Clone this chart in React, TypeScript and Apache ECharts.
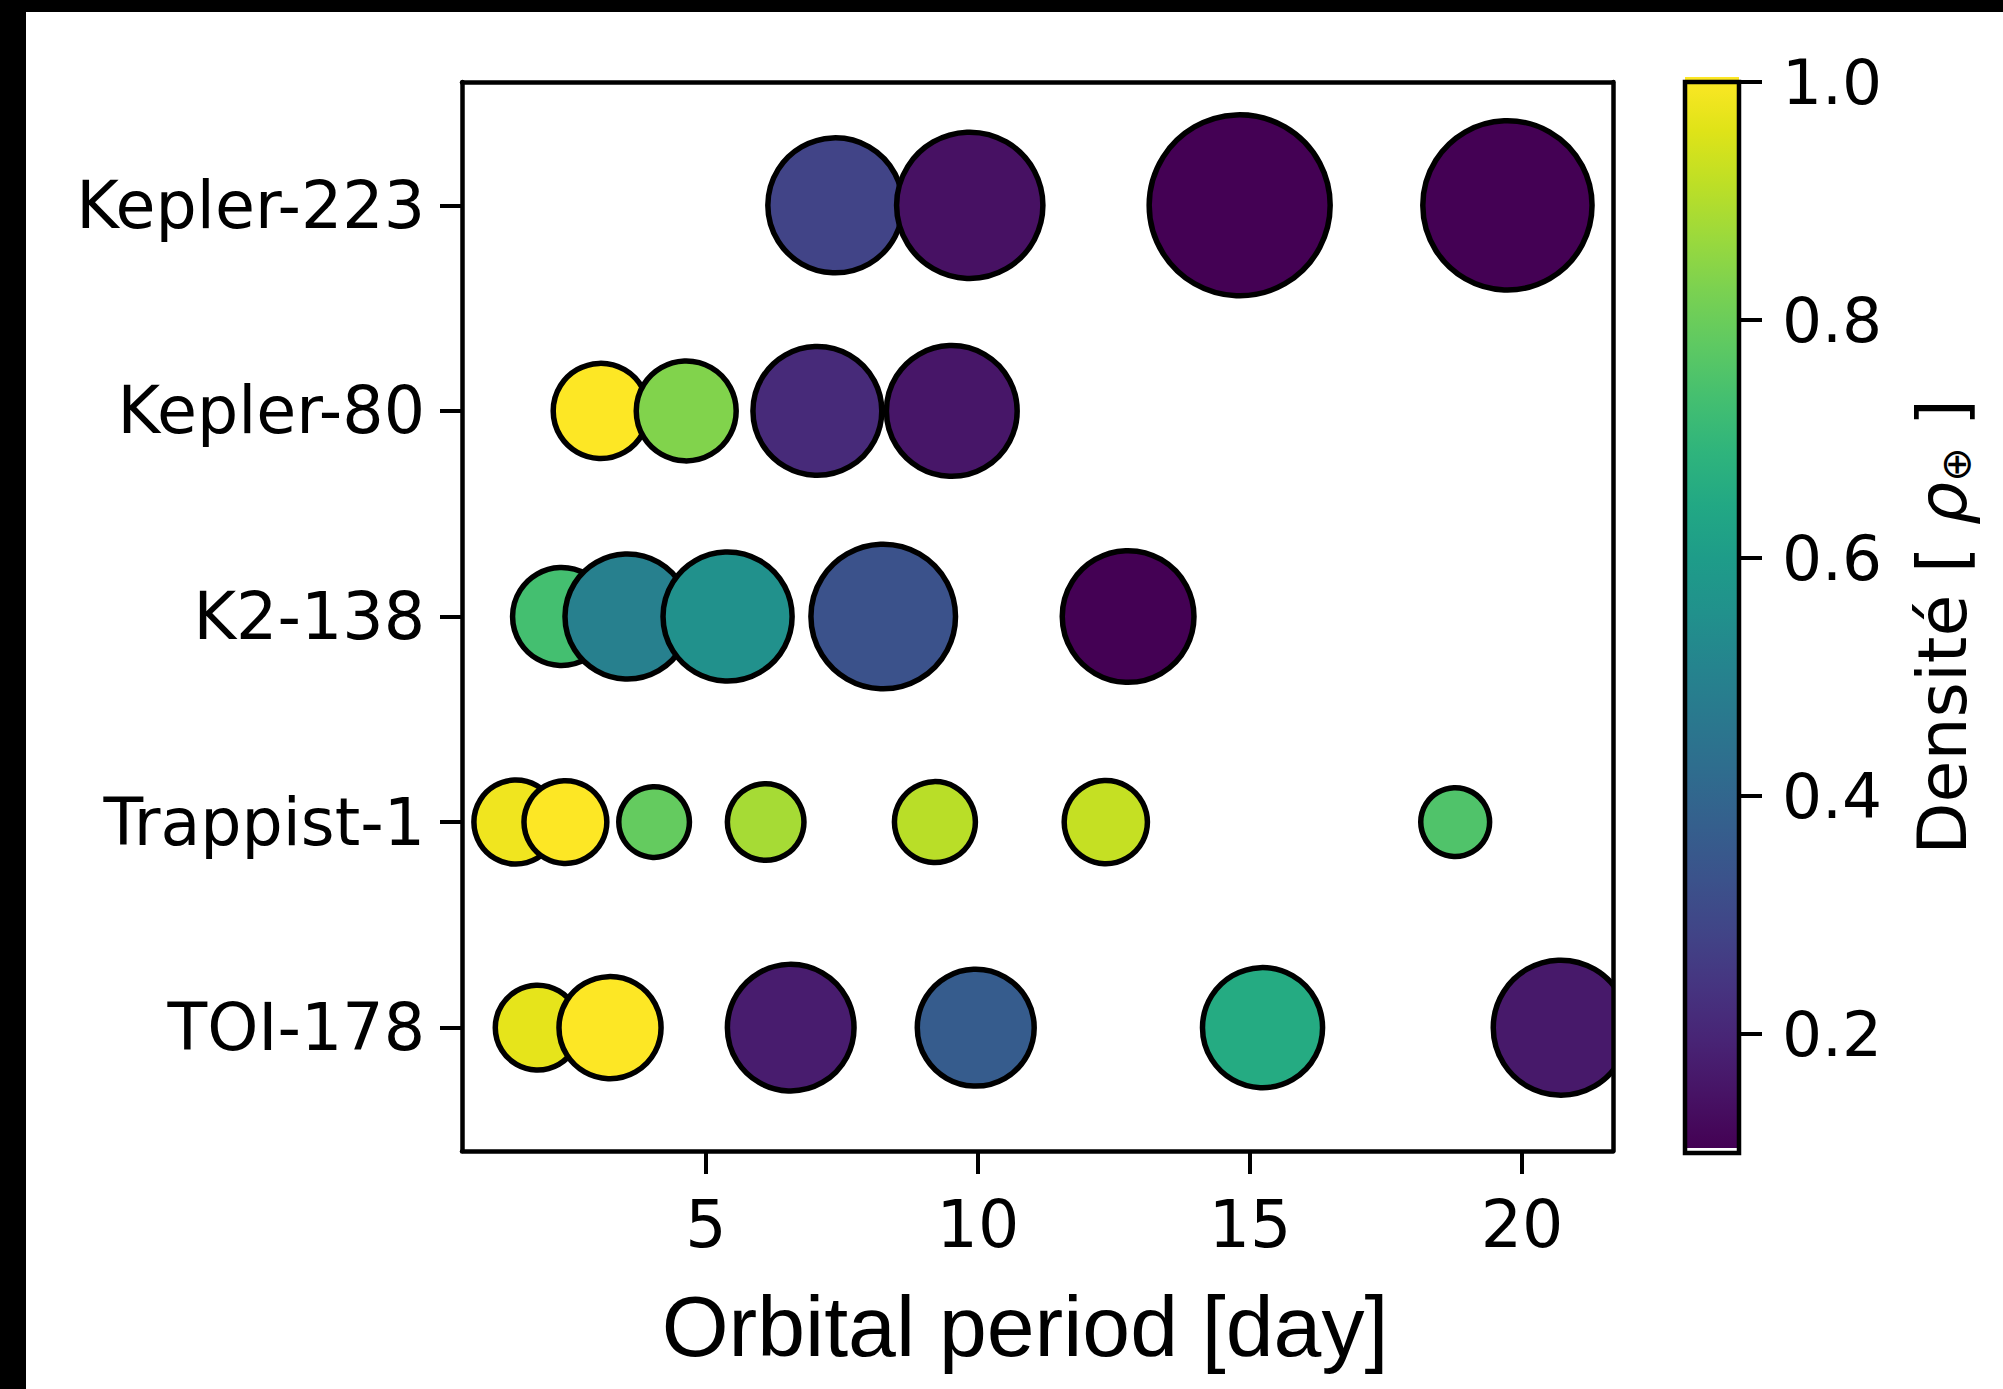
import React, { useEffect, useRef } from "react";
import * as echarts from "echarts";

// Systems, bottom (index 0) to top
const systems = ["TOI-178", "Trappist-1", "K2-138", "Kepler-80", "Kepler-223"];

// Orbital period [day], planet radius [R_earth] (marker size), density [rho_earth] (colour)
const toi178Period = [1.91, 3.24, 6.56, 9.96, 15.23, 20.71];
const toi178Radius = [1.15, 1.67, 2.57, 2.19, 2.31, 2.92];
const toi178Density = [0.965, 1.0, 0.17, 0.36, 0.65, 0.16];

const trappistPeriod = [1.51, 2.42, 4.05, 6.1, 9.21, 12.35, 18.77];
const trappistRadius = [1.13, 1.1, 0.8, 0.94, 1.05, 1.11, 0.76];
const trappistDensity = [0.98, 1.0, 0.784, 0.88, 0.905, 0.92, 0.75];

const k2138Period = [2.35, 3.56, 5.4, 8.26, 12.76];
const k2138Radius = [1.54, 2.5, 2.67, 3.35, 2.78];
const k2138Density = [0.73, 0.49, 0.55, 0.325, 0.1];

const kepler80Period = [3.07, 4.64, 7.05, 9.52];
const kepler80Radius = [1.45, 1.6, 2.66, 2.74];
const kepler80Density = [1.0, 0.83, 0.208, 0.154];

const kepler223Period = [7.38, 9.85, 14.81, 19.73];
const kepler223Radius = [2.92, 3.43, 5.25, 4.59];
const kepler223Density = [0.28, 0.14, 0.1, 0.1];

const xTicks = [5, 10, 15, 20];
const yTicks = [0, 1, 2, 3, 4];
const cbarTicks = [0.2, 0.4, 0.6, 0.8, 1.0];
const densityMin = 0.1;
const densityMax = 1.0;

const viridis = [
  "#440154", "#471365", "#482475", "#463480", "#414487", "#3b528b", "#355f8d",
  "#2f6c8e", "#2a788e", "#25848e", "#21918c", "#1e9c89", "#22a884", "#2fb47c",
  "#44bf70", "#5ec962", "#7ad151", "#9bd93c", "#bddf26", "#dfe318", "#fde725",
];

const rows = [
  [toi178Period, toi178Radius, toi178Density],
  [trappistPeriod, trappistRadius, trappistDensity],
  [k2138Period, k2138Radius, k2138Density],
  [kepler80Period, kepler80Radius, kepler80Density],
  [kepler223Period, kepler223Radius, kepler223Density],
];

const FONT = "DejaVu Sans";

export default function App() {
  const ref = useRef<HTMLDivElement>(null);

  useEffect(() => {
    if (!ref.current) return;
    const chart = echarts.init(ref.current, null, { renderer: "svg" });

    const scatterData: number[][] = [];
    rows.forEach(([p, r, d], i) => {
      p.forEach((x, j) => scatterData.push([x, i, d[j], r[j]]));
    });

    const gradientStops = viridis.map((c, i) => ({ offset: i / (viridis.length - 1), color: c }));

    const lineStyle = { color: "#000", width: 4.5 };
    const tickStyle = { color: "#000", width: 4 };

    const option: any = {
      animation: false,
      backgroundColor: "#fff",
      grid: [
        { left: 462, top: 82, width: 1151, height: 1069, containLabel: false },
        { left: 1685, top: 82, width: 54, height: 1071, containLabel: false },
      ],
      xAxis: [
        {
          type: "value",
          gridIndex: 0,
          position: "bottom",
          min: 0.52,
          max: 21.67,
          z: 5,
          axisLine: { show: true, onZero: false, lineStyle },
          axisTick: { show: true, inside: false, length: 23, lineStyle: tickStyle, customValues: xTicks },
          axisLabel: {
            show: true,
            customValues: xTicks,
            fontFamily: FONT,
            fontSize: 65,
            color: "#000",
            margin: 41,
          },
          splitLine: { show: false },
        },
        {
          type: "value",
          gridIndex: 0,
          position: "top",
          min: 0.52,
          max: 21.67,
          z: 5,
          axisLine: { show: true, onZero: false, lineStyle },
          axisTick: { show: false },
          axisLabel: { show: false },
          splitLine: { show: false },
        },
        {
          type: "value",
          gridIndex: 1,
          min: 0,
          max: 1,
          show: false,
          axisLine: { onZero: false },
        },
      ],
      yAxis: [
        {
          type: "value",
          gridIndex: 0,
          position: "left",
          min: -0.6,
          max: 4.6,
          z: 5,
          axisLine: { show: true, onZero: false, lineStyle },
          axisTick: { show: true, inside: false, length: 22, lineStyle: tickStyle, customValues: yTicks },
          axisLabel: {
            show: true,
            customValues: yTicks,
            formatter: (v: number) => systems[Math.round(v)] ?? "",
            fontFamily: FONT,
            fontSize: 65,
            color: "#000",
            margin: 37,
          },
          splitLine: { show: false },
        },
        {
          type: "value",
          gridIndex: 0,
          position: "right",
          min: -0.6,
          max: 4.6,
          z: 5,
          axisLine: { show: true, onZero: false, lineStyle },
          axisTick: { show: false },
          axisLabel: { show: false },
          splitLine: { show: false },
        },
        {
          type: "value",
          gridIndex: 1,
          position: "right",
          min: densityMin,
          max: densityMax,
          z: 5,
          axisLine: { show: false, onZero: false },
          axisTick: { show: true, inside: false, length: 23, lineStyle: tickStyle, customValues: cbarTicks },
          axisLabel: {
            show: true,
            customValues: cbarTicks,
            formatter: (v: number) => v.toFixed(1),
            fontFamily: FONT,
            fontSize: 63,
            color: "#000",
            margin: 43,
          },
          splitLine: { show: false },
        },
      ],
      visualMap: {
        type: "continuous",
        show: false,
        min: densityMin,
        max: densityMax,
        dimension: 2,
        seriesIndex: 0,
        inRange: { color: viridis },
      },
      series: [
        {
          type: "custom",
          name: "planets",
          xAxisIndex: 0,
          yAxisIndex: 0,
          data: scatterData,
          encode: { x: 0, y: 1 },
          clip: true,
          silent: true,
          z: 2,
          renderItem: (_params: any, api: any) => {
            const c = api.coord([api.value(0), api.value(1)]);
            const r = (79 * Math.sqrt(api.value(3))) / 2;
            return {
              type: "circle",
              shape: { cx: c[0], cy: c[1], r },
              style: { fill: api.visual("color"), stroke: "#000", lineWidth: 5.5 },
            };
          },
        },
        {
          type: "custom",
          xAxisIndex: 2,
          yAxisIndex: 2,
          data: [[0, densityMin, 1, densityMax]],
          clip: false,
          silent: true,
          renderItem: (_params: any, api: any) => {
            const p0 = api.coord([0, densityMin]);
            const p1 = api.coord([1, densityMax]);
            const w = p1[0] - p0[0];
            const h = p0[1] - p1[1];
            return {
              type: "group",
              children: [
                {
                  type: "rect",
                  shape: { x: p0[0], y: p1[1] - 5, width: w, height: h },
                  style: {
                    fill: new echarts.graphic.LinearGradient(0, 1, 0, 0, gradientStops),
                  },
                },
                {
                  type: "rect",
                  shape: { x: p0[0], y: p1[1], width: w, height: h },
                  style: { fill: "none", stroke: "#000", lineWidth: 4.5 },
                },
              ],
            };
          },
        },
      ],
      graphic: [
        { type: "rect", left: 0, top: 0, shape: { width: 2003, height: 12 }, style: { fill: "#000" }, z: 100 },
        { type: "rect", left: 0, top: 0, shape: { width: 26, height: 1389 }, style: { fill: "#000" }, z: 100 },
        {
          type: "text",
          x: 1025,
          y: 1326,
          style: {
            text: "Orbital period [day]",
            fontFamily: "Liberation Sans",
            fontSize: 86,
            fill: "#000",
            textAlign: "center",
            textVerticalAlign: "middle",
          },
        },
        {
          type: "text",
          x: 1942,
          y: 627,
          rotation: Math.PI / 2,
          style: {
            text: "{n|Densité [ }{i|ρ}{s|⊕}{n| ]}",
            textAlign: "center",
            textVerticalAlign: "middle",
            fill: "#000",
            rich: {
              n: { fontFamily: FONT, fontSize: 68, fill: "#000" },
              i: { fontFamily: FONT, fontSize: 68, fontStyle: "italic", fill: "#000" },
              s: { fontFamily: FONT, fontSize: 41, fill: "#000", padding: [27, 0, 0, 0] },
            },
          },
        },
      ],
    };

    chart.setOption(option);
    return () => chart.dispose();
  }, []);

  return (
    <div
      ref={ref}
      style={{ position: "fixed", left: 0, top: 0, width: 2003, height: 1389, background: "#fff" }}
    />
  );
}
